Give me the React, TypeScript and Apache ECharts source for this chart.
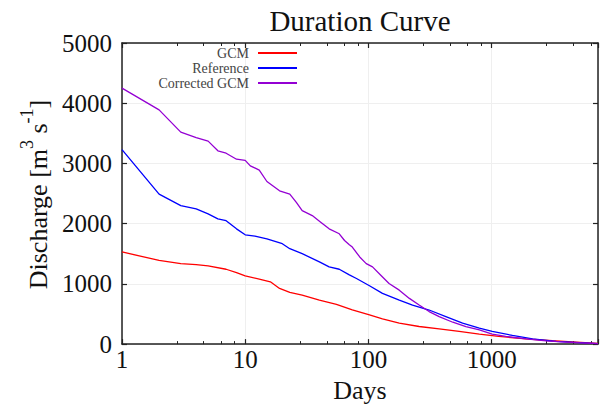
import React, { useEffect, useRef } from 'react';
import * as echarts from 'echarts';

// ---- data ----
const seriesNames = ['GCM', 'Reference', 'Corrected GCM'];
const seriesColors = ['#ff0000', '#0000ff', '#9400d3'];

const gcmDays = [1, 2, 3, 4, 5, 7, 8.5, 10, 13, 16, 19, 23, 29, 40, 55, 74, 102, 130, 178, 258, 375, 545, 795, 1140, 1900, 3110, 4500, 7300];
const gcmValues = [1530, 1390, 1337, 1320, 1298, 1243, 1188, 1133, 1078, 1034, 924, 858, 814, 731, 660, 570, 484, 418, 347, 292, 253, 210, 165, 127, 87, 56, 38, 10];

const refDays = [1, 2, 3, 4, 5, 6, 7, 8.5, 10, 12, 15, 20, 23, 29, 40, 48, 58, 70, 80, 102, 130, 178, 228, 311, 425, 581, 795, 1011, 1474, 2150, 3330, 7300];
const refValues = [3230, 2490, 2300, 2244, 2162, 2080, 2050, 1914, 1815, 1794, 1749, 1667, 1584, 1502, 1365, 1282, 1243, 1150, 1089, 969, 842, 731, 649, 566, 457, 347, 264, 210, 144, 87, 45, 8];

const corDays = [1, 2, 3, 4, 5, 6, 7, 8.5, 10, 11, 13, 15, 19, 23, 26, 29, 35, 41, 48, 58, 64, 70, 74, 85, 96, 108, 126, 147, 178, 215, 258, 311, 375, 484, 618, 795, 1011, 1301, 1900, 2770, 4000, 7300];
const corValues = [4250, 3890, 3520, 3430, 3370, 3210, 3170, 3070, 3050, 2960, 2890, 2700, 2546, 2492, 2355, 2216, 2134, 2025, 1914, 1832, 1720, 1650, 1612, 1447, 1337, 1282, 1144, 1007, 896, 759, 649, 540, 457, 363, 292, 236, 165, 127, 87, 54, 33, 8];

const xTickLabels = [1, 10, 100, 1000];
const xMin = 1;
const xMax = 7300;
const yMin = 0;
const yMax = 5000;
const yInterval = 1000;

const FONT = 'Liberation Serif';

export default function App() {
  const ref = useRef<HTMLDivElement>(null);
  useEffect(() => {
    const chart = echarts.init(ref.current!, null, { renderer: 'svg' });
    const pairs = (d: number[], v: number[]) => d.map((x, i) => [x, v[i]]);
    const allData = [pairs(gcmDays, gcmValues), pairs(refDays, refValues), pairs(corDays, corValues)];
    const frame = { show: true, onZero: false, lineStyle: { color: '#222', width: 1.5 } };
    const xBase: any = {
      type: 'log', logBase: 10, min: xMin, max: xMax,
      axisLine: frame,
      axisTick: { show: true, inside: true, length: 5, lineStyle: { color: '#222', width: 1.2 } },
      minorTick: { show: true, length: 3, lineStyle: { color: '#222', width: 1 } },
    };
    const legendRows = [46, 61, 76];
    chart.setOption({
      animation: false,
      grid: { left: 122, right: 3, top: 43, bottom: 62, containLabel: false },
      legend: seriesNames.map((n, i) => ({
        data: [n], right: 304, top: legendRows[i], orient: 'vertical', align: 'right',
        icon: 'rect', itemWidth: 39, itemHeight: 2, padding: 0, selectedMode: false,
        textStyle: { fontFamily: FONT, fontSize: 14, color: '#444', padding: [0, 4, 0, 0] },
      })),
      xAxis: [
        {
          ...xBase, position: 'bottom',
          splitLine: { show: true, lineStyle: { color: '#efefef', width: 1 } },
          axisLabel: {
            fontFamily: FONT, fontSize: 25, color: '#111', margin: 3, showMaxLabel: false,
            formatter: (v: number) => (xTickLabels.includes(Math.round(v)) ? String(Math.round(v)) : ''),
          },
          name: 'Days', nameLocation: 'middle', nameGap: 32,
          nameTextStyle: { fontFamily: FONT, fontSize: 26, color: '#111' },
        },
        { ...xBase, position: 'top', splitLine: { show: false }, axisLabel: { show: false } },
      ],
      yAxis: [
        {
          type: 'value', min: yMin, max: yMax, interval: yInterval, position: 'left',
          axisLine: frame,
          axisTick: { show: true, inside: true, length: 5, lineStyle: { color: '#222', width: 1.2 } },
          splitLine: { show: true, lineStyle: { color: '#efefef', width: 1 } },
          axisLabel: { fontFamily: FONT, fontSize: 25, color: '#111', margin: 10, formatter: (v: number) => String(v) },
        },
        {
          type: 'value', min: yMin, max: yMax, interval: yInterval, position: 'right',
          axisLine: frame,
          axisTick: { show: true, inside: true, length: 5, lineStyle: { color: '#222', width: 1.2 } },
          splitLine: { show: false },
          axisLabel: { show: false },
        },
      ],
      graphic: [
        {
          type: 'text', x: 360, y: 21,
          style: { text: 'Duration Curve', fontFamily: FONT, fontSize: 29, fill: '#111', align: 'center', verticalAlign: 'middle' },
        },
        {
          type: 'text', x: 38, y: 194.5, rotation: Math.PI / 2,
          style: {
            text: 'Discharge [m{sup|3} s{sup|-1}]', fontFamily: FONT, fontSize: 26, lineHeight: 40,
            fill: '#111', align: 'center', verticalAlign: 'middle',
            rich: { sup: { fontFamily: FONT, fontSize: 18, lineHeight: 18, verticalAlign: 'top', fill: '#111' } },
          },
        },
      ],
      series: seriesNames.map((n, i) => ({
        name: n, type: 'line', xAxisIndex: 0, yAxisIndex: 0, data: allData[i],
        showSymbol: false, symbol: 'none', color: seriesColors[i],
        lineStyle: { color: seriesColors[i], width: 1.3 },
      })),
    });
    return () => chart.dispose();
  }, []);
  return <div ref={ref} style={{ position: 'absolute', left: 0, top: 0, width: 601, height: 408 }} />;
}
